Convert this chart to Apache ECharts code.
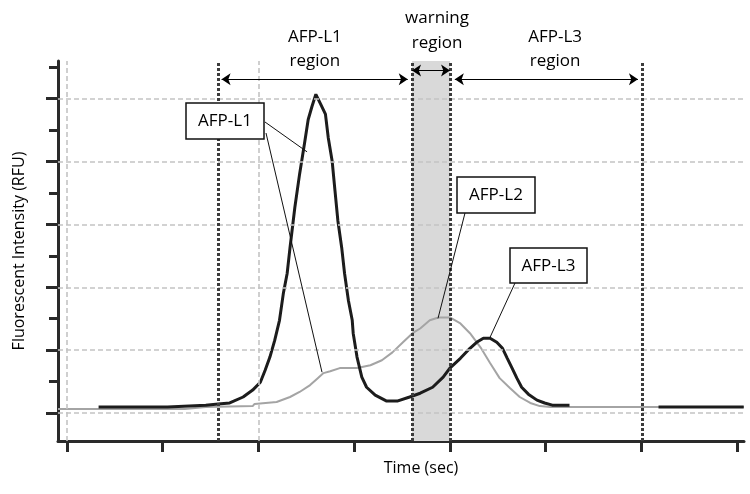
<!DOCTYPE html>
<html><head><meta charset="utf-8">
<script src="https://cdn.jsdelivr.net/npm/echarts@6/dist/echarts.min.js"></script>
<style>html,body{margin:0;padding:0;background:#fff}#c{width:750px;height:494px}</style>
</head><body><div id="c"></div>
<script>
// ---- data ----
const xTicks = [0, 10, 20, 30, 40, 50, 60, 70];
const yMajorTicks = [0, 20, 40, 60, 80, 100];
const yMinorTicks = [10, 30, 50, 70, 90, 110];
const xGridValues = [0, 20];
const regionBounds = [15.8, 36.05, 40.02, 60.1];   // L1 start, warning start, warning end / L3 start, L3 end
const regionNames = ['AFP-L1\nregion', 'warning\nregion', 'AFP-L3\nregion'];
const regionLabelX = [25.9, 38.66, 51.0];

// black trace (AFP-L1 and AFP-L3 peaks), '-' = gap
const blackTrace = [[3.3,1.9],[10.5,1.9],[10.6,2.5],[14.5,2.5],[14.6,2.9],[15.8,2.9],[17.0,3.2],[18.4,5.1],[19.4,7.3],[20.2,9.8],[20.7,13.6],[21.2,17.8],[21.7,23.1],[22.2,29.5],[22.6,38.0],[23.0,44.4],[23.3,52.6],[23.8,65.3],[24.3,76.0],[24.8,85.5],[25.2,93.4],[25.6,97.6],[26.0,101.4],[26.5,98.3],[27.0,95.1],[27.3,87.5],[27.7,80.2],[28.0,70.7],[28.3,61.2],[28.7,52.6],[29.0,44.4],[29.4,35.8],[29.8,29.5],[29.9,25.4],[30.3,17.8],[30.8,11.4],[31.3,8.2],[32.2,5.7],[33.4,3.8],[34.5,3.8],[35.8,5.1],[36.9,6.3],[38.2,8.2],[39.3,11.4],[40.0,14.3],[41.1,17.4],[42.1,20.6],[42.8,22.5],[43.5,23.8],[44.2,23.8],[44.9,22.5],[45.5,20.6],[46.0,17.4],[46.5,14.3],[47.0,11.1],[47.5,8.2],[48.2,6.0],[49.1,4.1],[49.9,3.2],[50.7,2.5],[52.5,2.5],[57,'-'],[61.8,1.9],[70.7,1.9]];
// gray trace (AFP-L2)
const grayTrace = [[-0.94,1.3],[12.3,1.3],[14.5,1.9],[19.4,2.2],[19.6,2.9],[21.9,3.5],[23.3,5.1],[24.3,6.7],[25.4,8.9],[26.2,11.1],[26.8,12.7],[27.5,13.3],[28.5,14.3],[30.3,14.3],[31.7,15.2],[32.9,16.8],[34.0,19.3],[35.1,22.5],[36.1,25.4],[36.9,26.9],[37.9,29.5],[38.8,30.4],[40.0,30.4],[41.1,28.5],[42.1,25.4],[43.2,20.9],[44.2,15.9],[45.2,11.1],[46.3,7.9],[47.3,5.1],[48.4,3.2],[49.4,2.2],[50.5,1.9],[70.7,1.9]];
// callout targets on the curves (data coords)
const calloutNames = ['AFP-L1', 'AFP-L2', 'AFP-L3'];
const calloutTargets = [[[25.08, 83.1], [26.64, 13.0]], [[38.76, 30.1]], [[44.2, 24.1]]];

// ---- layout ----
const FONT = 'Open Sans';
const calloutBoxes = [[186, 103, 78, 36], [457, 177, 78, 36], [510, 248, 77, 35]];
const calloutStarts = [[[265, 122], [266, 133]], [[465, 213]], [[515, 283]]];

const chart = echarts.init(document.getElementById('c'), null, {renderer: 'canvas'});
const axisCol = '#2a2a2a';
const gridStyle = {color: '#c4c4c4', width: 1.6, type: [5, 3]};

const option = {
  animation: false,
  backgroundColor: '#fff',
  grid: {left: 58, right: 6, top: 61, bottom: 53, outerBoundsMode: 'none'},
  xAxis: {
    type: 'value', min: -0.94, max: 70.73,
    axisLine: {show: true, onZero: false, lineStyle: {color: axisCol, width: 3}},
    axisTick: {show: true, customValues: xTicks, length: 11, lineStyle: {color: axisCol, width: 3}},
    axisLabel: {show: false},
    splitLine: {show: false}
  },
  yAxis: [{
    type: 'value', min: -8.9, max: 112.0, position: 'left',
    name: 'Fluorescent Intensity (RFU)', nameLocation: 'middle', nameGap: 31,
    nameTextStyle: {fontFamily: FONT, fontSize: 16, color: '#000'},
    axisLine: {show: true, onZero: false, lineStyle: {color: axisCol, width: 3}},
    axisTick: {show: true, customValues: yMajorTicks, length: 12, lineStyle: {color: axisCol, width: 3}},
    axisLabel: {show: false},
    splitLine: {show: false}
  }, {
    type: 'value', min: -8.9, max: 112.0, position: 'left', offset: 0,
    axisLine: {show: false, onZero: false},
    axisTick: {show: true, customValues: yMinorTicks, length: 9, lineStyle: {color: axisCol, width: 3}},
    axisLabel: {show: false},
    splitLine: {show: false}
  }],
  series: [
    { // gridlines
      type: 'line', data: [], z: 1, silent: true,
      markLine: {
        silent: true, symbol: 'none', label: {show: false}, lineStyle: gridStyle,
        data: yMajorTicks.map(v => ({yAxis: v})).concat(xGridValues.map(v => ({xAxis: v})))
      }
    },
    { // regions
      type: 'line', data: [], z: 2, silent: true,
      markArea: {
        silent: true, itemStyle: {color: '#d9d9d9'},
        data: [[{xAxis: regionBounds[1]}, {xAxis: regionBounds[2]}]]
      },
      markLine: {
        silent: true, symbol: 'none', label: {show: false},
        lineStyle: {color: '#3c3c3c', width: 3, type: [3, 2]},
        data: regionBounds.map(v => ({xAxis: v}))
      }
    },
    {
      name: 'AFP-L2', type: 'line', data: grayTrace, z: 3, showSymbol: false, symbol: 'none',
      lineStyle: {color: '#a4a4a4', width: 2}
    },
    {
      name: 'AFP-L1/L3', type: 'line', data: blackTrace, z: 4, showSymbol: false, symbol: 'none',
      connectNulls: false,
      lineStyle: {color: '#1c1c1c', width: 3}
    },
    { // arrows
      type: 'line', data: [], z: 5, silent: true,
      markLine: {
        silent: true, symbol: ['arrow', 'arrow'], symbolSize: 9, label: {show: false},
        lineStyle: {color: '#000', width: 1.2, type: 'solid'},
        data: [
          [{coord: [regionBounds[0] + 0.35, 106.2]}, {coord: [regionBounds[1] - 0.45, 106.2]}],
          [{coord: [regionBounds[1], 109.0]}, {coord: [regionBounds[2], 109.0]}],
          [{coord: [regionBounds[2] + 0.5, 106.2]}, {coord: [regionBounds[3] - 0.45, 106.2]}]
        ]
      }
    }
  ]
};
chart.setOption(option);

function px(p) { return chart.convertToPixel({seriesIndex: 2}, p); }

const graphics = [];
// region labels
const labelCenterY = [49, 30.5, 49];
regionNames.forEach((t, i) => {
  graphics.push({
    type: 'text', x: px([regionLabelX[i], 0])[0], y: labelCenterY[i], z: 10,
    style: {text: t, font: '17px "' + FONT + '"', fill: '#000', align: 'center', verticalAlign: 'middle', lineHeight: 24.5}
  });
});
// callouts
calloutNames.forEach((name, i) => {
  calloutStarts[i].forEach((s, j) => {
    const e = px(calloutTargets[i][j]);
    graphics.push({type: 'line', z: 11, shape: {x1: s[0], y1: s[1], x2: e[0], y2: e[1]}, style: {stroke: '#111', lineWidth: 1}});
  });
  const b = calloutBoxes[i];
  graphics.push({type: 'rect', z: 12, shape: {x: b[0], y: b[1], width: b[2], height: b[3]}, style: {fill: '#fff', stroke: '#111', lineWidth: 1.5}});
  graphics.push({type: 'text', z: 13, x: b[0] + b[2] / 2, y: b[1] + b[3] / 2 + 0.5,
    style: {text: name, font: '17px "' + FONT + '"', fill: '#000', align: 'center', verticalAlign: 'middle'}});
});
// x axis title
graphics.push({type: 'text', x: 421, y: 468, z: 10,
  style: {text: 'Time (sec)', font: '16px "' + FONT + '"', fill: '#000', align: 'center', verticalAlign: 'middle'}});

chart.setOption({graphic: graphics});
</script>
</body></html>
